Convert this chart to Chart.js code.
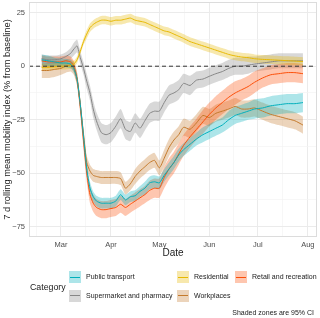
<!DOCTYPE html>
<html>
<head>
<meta charset="utf-8">
<script src="https://cdn.jsdelivr.net/npm/chart.js@4"></script>
<style>
  html, body { margin: 0; padding: 0; background: #fff; }
  #wrap { position: relative; width: 320px; height: 318px; font-family: "Liberation Sans", Arial, sans-serif; }
  #c { position: absolute; left: 0; top: 0; }
  .lg { position: absolute; white-space: nowrap; color: #1a1a1a; }
  .key { position: absolute; width: 12px; height: 12px; }
  .key i { position: absolute; left: 1px; right: 1px; top: 5.5px; height: 1.2px; }
</style>
</head>
<body>
<div id="wrap">
  <canvas id="c" width="320" height="318"></canvas>
  <div id="legend"></div>
</div>
<script>
// days since 1 March
const days = [
  -12, -8, -4, 0, 3, 6, 8,
  10, 12, 14, 16, 18, 20, 22,
  25, 28, 31, 34, 37, 40, 43,
  46, 49, 52, 55, 58, 61, 64,
  67, 70, 73, 76, 80, 84, 88,
  92, 96, 100, 104, 108, 112, 116,
  120, 125, 130, 135, 140, 145, 150
];

const publicTransport = [
  3, 2.5, 2, 1.5, 1.5, 1, -1,
  -6, -18, -33, -48, -57, -61, -63,
  -64, -64, -64, -63, -60, -62.5, -61,
  -60.5, -58.5, -57, -54.5, -54, -54.5, -51,
  -48, -45, -41.5, -39, -36.5, -34, -32,
  -30.5, -29, -27.5, -25, -23, -22, -21,
  -20, -19.5, -18.5, -18, -17.5, -17.5, -17
];
const publicTransportCI = [
  2.5, 2.5, 2, 2, 2, 2, 2,
  2, 2.5, 3, 3, 3, 2.5, 2.5,
  2.5, 2.5, 2.5, 2.5, 2.5, 2.5, 2.5,
  2.5, 2.5, 3, 3, 3, 3, 3,
  3, 3, 3, 3, 3, 3, 3.5,
  3.5, 3.5, 3.5, 4, 4, 4, 4,
  4.5, 4.5, 4.5, 4.5, 4.5, 4.5, 4.5
];

const residential = [
  -0.5, -0.5, -0.3, 0, 0, 0.3, 1,
  3, 7, 11.5, 15, 18, 19.5, 20.5,
  21.5, 21.5, 21, 21.5, 21.5, 22, 22.5,
  21.5, 21, 20.5, 19.5, 18.5, 17.5, 16.5,
  16, 15, 14, 13, 11.5, 10.5, 9.5,
  8.5, 7.5, 6.5, 5.5, 4.8, 4.3, 4,
  3.5, 3.2, 3, 2.8, 2.6, 2.4, 2.2
];
const residentialCI = [
  1.5, 1.5, 1.5, 1.5, 1.5, 1.5, 1.5,
  1.5, 1.5, 1.5, 2, 2, 2, 2,
  2, 2, 2, 2, 2, 2, 2,
  2, 2, 2, 2, 2, 2, 2,
  2, 2, 2, 2, 2, 2, 2,
  2, 2, 2, 2, 2, 2, 2,
  2, 2, 2, 2, 2, 2, 2
];

const retail = [
  2.5, 2, 2, 2, 2.5, 2, 0,
  -6, -19, -35, -50, -60, -64, -66,
  -67, -67, -66.5, -66, -64.5, -66, -64.5,
  -63, -61.5, -60, -58, -57, -57, -52,
  -48, -45, -41, -37, -33, -29.5, -26,
  -22.5, -19.5, -17, -14.5, -12.5, -11, -9.5,
  -7.5, -5.5, -4, -3.5, -3, -3, -3.5
];
const retailCI = [
  2.5, 2.5, 2.5, 2.5, 2.5, 2.5, 2.5,
  3, 3.5, 4, 4, 4, 4, 4,
  4, 4, 4, 4, 4, 4, 4,
  4, 4, 4, 4.5, 4.5, 4.5, 5,
  5, 5, 5, 5, 5, 5, 5.5,
  5.5, 5.5, 5.5, 5.5, 5.5, 5, 5,
  5, 4.5, 4.5, 4.5, 4.5, 4.5, 4.5
];

const supermarket = [
  3.5, 3, 3, 3.5, 4.5, 6, 8,
  9.5, 4, -1, -7, -12.5, -20, -25.5,
  -31, -32, -31, -28, -24.5, -29.5, -30.5,
  -26.5, -29, -25.5, -22, -21, -21, -17,
  -13.5, -12.5, -11, -8, -9, -6.5, -6,
  -4.7, -3.5, -2.5, -1, 0, 0, 0.5,
  1, 1.5, 2, 2.5, 2.5, 2.5, 2.5
];
const supermarketCI = [
  2, 2, 2, 2, 2, 2.5, 3,
  3, 3, 3, 3.5, 3.5, 4, 4,
  4.5, 4.5, 4.5, 4.5, 4.5, 4.5, 4.5,
  4.5, 4.5, 4.5, 4.5, 4.5, 4.5, 4.5,
  4.5, 4.5, 4.5, 4.5, 4.5, 4, 4,
  4, 4, 4, 4, 4, 4, 4,
  3.5, 3.5, 3.5, 3.5, 3.5, 3.5, 3.5
];

const workplaces = [
  -2, -2, -1.5, -1, 0, 0.5, -1,
  -6, -18, -32, -45, -49, -51, -51.5,
  -52, -52, -52, -52, -52.5, -57, -55,
  -51.5, -49, -47, -45, -44, -47.5, -43,
  -38, -34.5, -32, -28.5, -29.5, -26.5, -23,
  -24, -22, -21, -20, -18.8, -20, -20,
  -19.5, -21, -22.5, -23.5, -24.5, -25.5, -27.5
];
const workplacesCI = [
  3.5, 3.5, 3.5, 3, 3, 3, 3,
  3, 3, 3, 3, 3, 3, 3,
  3, 3, 3, 3, 3, 3, 3,
  3.5, 3.5, 3.5, 3.5, 3.5, 3.5, 4,
  4, 4, 4, 4, 4, 4, 4,
  4, 4, 4, 4, 4, 4, 4,
  4, 4, 4, 4, 4, 4, 4
];

const categories = ["Public transport", "Residential", "Retail and recreation", "Supermarket and pharmacy", "Workplaces"];
const colors = ["#00AFBB", "#E7B800", "#FC4E07", "#868686", "#C47A2C"];
const means = [publicTransport, residential, retail, supermarket, workplaces];
const cis = [publicTransportCI, residentialCI, retailCI, supermarketCI, workplacesCI];

// axis ticks
const xTickDays = [0, 31, 61, 92, 122, 153];
const xTickLabels = ["Mar", "Apr", "May", "Jun", "Jul", "Aug"];
const xMinorDays = [-15, 15.5, 46, 76.5, 107, 137.5];
const yTickValues = [25, 0, -25, -50, -75];
const yTickLabels = ["25", "0", "\u221225", "\u221250", "\u221275"];
const yMinorValues = [12.5, -12.5, -37.5, -62.5];

function rgba(hex, a) {
  const n = parseInt(hex.slice(1), 16);
  return `rgba(${n >> 16},${(n >> 8) & 255},${n & 255},${a})`;
}

const datasets = [];
means.forEach((m, i) => {
  datasets.push({
    data: days.map((d, k) => ({ x: d, y: m[k] - cis[i][k] })),
    borderWidth: 0, pointRadius: 0, fill: false, tension: 0.2, order: 2
  });
  datasets.push({
    data: days.map((d, k) => ({ x: d, y: m[k] + cis[i][k] })),
    borderWidth: 0, pointRadius: 0, fill: "-1", tension: 0.2, order: 2,
    backgroundColor: rgba(colors[i], 0.32)
  });
});
means.forEach((m, i) => {
  datasets.push({
    label: categories[i],
    data: days.map((d, k) => ({ x: d, y: m[k] })),
    borderColor: colors[i], borderWidth: 1, pointRadius: 0,
    fill: false, tension: 0.2, order: 1
  });
});

const panel = {
  id: "panel",
  afterDatasetsDraw(chart) {
    const { ctx, chartArea: a, scales } = chart;
    const y0 = scales.y.getPixelForValue(0);
    ctx.save();
    ctx.strokeStyle = "#333";
    ctx.lineWidth = 1;
    ctx.setLineDash([4, 3]);
    ctx.beginPath();
    ctx.moveTo(a.left, y0);
    ctx.lineTo(a.right, y0);
    ctx.stroke();
    ctx.setLineDash([]);
    ctx.strokeStyle = "#dcdcdc";
    ctx.strokeRect(a.left + 0.5, a.top + 0.5, a.right - a.left - 1, a.bottom - a.top - 1);
    ctx.restore();
  }
};

Chart.defaults.font.family = '"Liberation Sans", Arial, sans-serif';

const byValue = (a, b) => a - b;

new Chart(document.getElementById("c"), {
  type: "line",
  data: { datasets },
  plugins: [panel],
  options: {
    responsive: false,
    animation: false,
    layout: { padding: { left: 0, right: 3, top: 2, bottom: 59 } },
    plugins: { legend: { display: false }, tooltip: { enabled: false } },
    scales: {
      x: {
        type: "linear",
        min: -19.8,
        max: 158.7,
        afterBuildTicks: s => { s.ticks = xTickDays.concat(xMinorDays).sort(byValue).map(v => ({ value: v })); },
        afterFit: s => { s.height = 22; s.paddingLeft = 0; s.paddingRight = 0; },
        ticks: {
          autoSkip: false, maxRotation: 0, padding: 3,
          color: "#4d4d4d", font: { size: 7.5 },
          callback: v => { const k = xTickDays.indexOf(v); return k >= 0 ? xTickLabels[k] : ""; }
        },
        grid: {
          drawTicks: false,
          color: c => xTickDays.includes(c.tick.value) ? "#ebebeb" : "#f4f4f4",
          lineWidth: c => xTickDays.includes(c.tick.value) ? 1 : 0.7
        },
        border: { display: false },
        title: { display: true, text: "Date", color: "#1a1a1a", font: { size: 10 }, padding: 0 }
      },
      y: {
        min: -79.8,
        max: 30,
        afterBuildTicks: s => { s.ticks = yTickValues.concat(yMinorValues).sort(byValue).map(v => ({ value: v })); },
        afterFit: s => { s.width = 29; s.paddingTop = 0; s.paddingBottom = 0; },
        ticks: {
          autoSkip: false, padding: 4,
          color: "#4d4d4d", font: { size: 7.5 },
          callback: v => { const k = yTickValues.indexOf(v); return k >= 0 ? yTickLabels[k] : ""; }
        },
        grid: {
          drawTicks: false,
          color: c => yTickValues.includes(c.tick.value) ? "#ebebeb" : "#f4f4f4",
          lineWidth: c => yTickValues.includes(c.tick.value) ? 1 : 0.7
        },
        border: { display: false },
        title: {
          display: true, text: "7 d rolling mean mobility index (% from baseline)",
          color: "#1a1a1a", font: { size: 9.3 }, padding: { top: 2, bottom: 0 }
        }
      }
    }
  }
});

// legend (ggplot style, two rows) and caption
const legendSlots = [[69, 271], [177, 271], [235, 271], [69, 289.5], [177, 289.5]];
const legend = document.getElementById("legend");
let html = '<div class="lg" style="left:30px;top:281px;font-size:8.8px;line-height:12px">Category</div>';
categories.forEach((name, i) => {
  const [x, y] = legendSlots[i];
  html += `<div class="key" style="left:${x}px;top:${y}px;background:${rgba(colors[i], 0.32)}"><i style="background:${colors[i]}"></i></div>`;
  html += `<div class="lg" style="left:${x + 17}px;top:${y}px;font-size:7px;line-height:12px">${name}</div>`;
});
html += '<div class="lg" style="right:6px;top:307px;font-size:7px;line-height:12px">Shaded zones are 95% CI</div>';
legend.innerHTML = html;
</script>
</body>
</html>
